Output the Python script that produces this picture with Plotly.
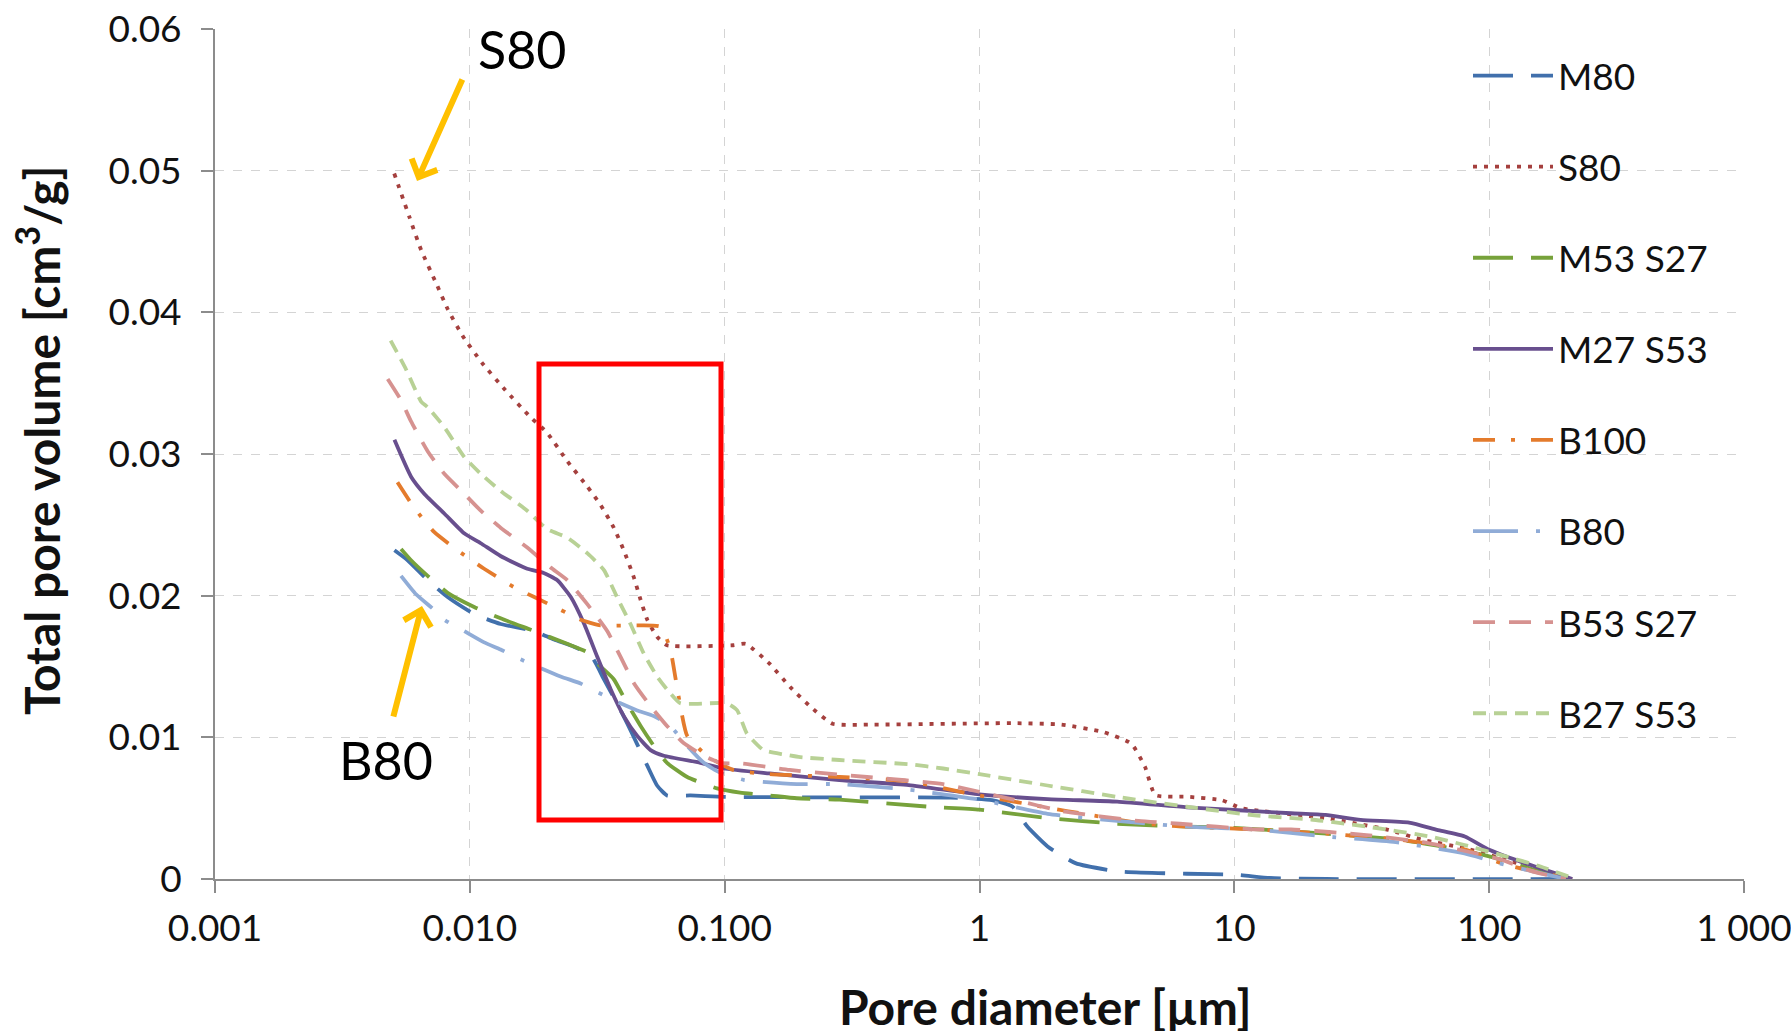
import plotly.graph_objects as go

# ---------------- data ----------------
m80_x = [0.00506, 0.0057, 0.00683, 0.00818, 0.0104, 0.0132, 0.0179, 0.0214, 0.0256, 0.0298, 0.0336,
         0.0378, 0.0414, 0.0454, 0.0497, 0.0543, 0.0594, 0.0734, 0.1, 0.282, 0.77, 1.12, 1.35, 1.54,
         1.85, 2.38, 3.47, 6.5, 10.1, 13.8, 23, 212]
m80_y = [0.0232, 0.0225, 0.0211, 0.0199, 0.0187, 0.0180, 0.0175, 0.0169, 0.0164, 0.0158, 0.0141,
         0.0124, 0.0110, 0.0095, 0.0080, 0.0066, 0.0059, 0.0059, 0.0058, 0.00576, 0.00574, 0.00557,
         0.0051, 0.0037, 0.0023, 0.00112, 0.00054, 0.00037, 0.0003, 0.00007, 0.0, 0.0]

s80_x = [0.00505, 0.0058, 0.00644, 0.0074, 0.0082, 0.0094, 0.0112, 0.0138, 0.0173, 0.0201, 0.0241,
         0.0289, 0.0326, 0.0367, 0.0402, 0.0440, 0.0468, 0.0497, 0.0543, 0.0594, 0.108, 0.121, 0.150,
         0.181, 0.219, 0.265, 0.386, 1.36, 2.10, 3.06, 3.94, 4.46, 4.90, 6.5, 8.9, 10.7, 22.9, 40.2,
         55, 80, 110, 206]
s80_y = [0.0498, 0.0467, 0.0444, 0.0420, 0.0402, 0.0383, 0.0364, 0.0345, 0.0326, 0.0315, 0.0295,
         0.0277, 0.0264, 0.0248, 0.0232, 0.0213, 0.0197, 0.0183, 0.0171, 0.0165, 0.0165, 0.0166,
         0.0152, 0.01354, 0.0121, 0.01096, 0.0109, 0.0110, 0.0109, 0.01037, 0.00956, 0.00792,
         0.00593, 0.00581, 0.00557, 0.00499, 0.0043, 0.00347, 0.00276, 0.00218, 0.00148, 0.0]

m53s27_x = [0.00537, 0.00588, 0.00683, 0.00818, 0.0104, 0.0132, 0.0179, 0.0241, 0.0289, 0.0326,
            0.0367, 0.0414, 0.0468, 0.0527, 0.0594, 0.0713, 0.0933, 0.115, 0.15, 0.192, 0.282,
            0.637, 1.0, 1.85, 3.47, 6.5, 10, 23, 43, 70, 100, 150, 212]
m53s27_y = [0.0233, 0.0225, 0.0214, 0.0202, 0.0192, 0.0184, 0.0175, 0.0166, 0.0160, 0.0150,
            0.0141, 0.0124, 0.0108, 0.0094, 0.0082, 0.0072, 0.0064, 0.0061, 0.0059, 0.0057, 0.0056,
            0.0051, 0.0049, 0.0043, 0.0039, 0.0037, 0.0036, 0.0032, 0.0028, 0.0022, 0.0016,
            0.00066, 0.0]

m27s53_x = [0.00506, 0.00588, 0.00662, 0.00794, 0.0095, 0.01104, 0.0132, 0.0168, 0.0195, 0.0220,
            0.0249, 0.0281, 0.0316, 0.0357, 0.0402, 0.0454, 0.0512, 0.0577, 0.0803, 0.099, 0.150,
            0.282, 0.528, 1.0, 1.85, 3.47, 6.51, 10, 16.7, 22.8, 31.3, 48.5, 62.4, 80.2, 100, 132, 212]
m27s53_y = [0.0310, 0.0284, 0.0272, 0.0258, 0.0244, 0.0237, 0.0228, 0.0219, 0.0216, 0.0211,
            0.0199, 0.0180, 0.0157, 0.0134, 0.0115, 0.0101, 0.0091, 0.0087, 0.0082, 0.0078, 0.00745,
            0.00698, 0.00663, 0.00597, 0.00564, 0.00546, 0.00506, 0.00487, 0.00464, 0.00452,
            0.00417, 0.00398, 0.00347, 0.0030, 0.00206, 0.00124, 0.0]

b100_x = [0.0052, 0.00605, 0.00724, 0.00895, 0.01138, 0.0149, 0.0179, 0.0227, 0.0272, 0.0326,
          0.0441, 0.0561, 0.0612, 0.0641, 0.0670, 0.0713, 0.0853, 0.108, 0.15, 0.282, 0.528, 0.818,
          1.0, 2.2, 4.46, 6.5, 12, 23, 43, 80, 116, 212]
b100_y = [0.0280, 0.0262, 0.0245, 0.0232, 0.0219, 0.0206, 0.0199, 0.0190, 0.0183, 0.0179,
          0.0179, 0.0178, 0.0162, 0.0142, 0.0122, 0.0101, 0.0087, 0.0077, 0.0074, 0.0072, 0.0069,
          0.0062, 0.0059, 0.0048, 0.0039, 0.0037, 0.0035, 0.0032, 0.0028, 0.0021, 0.0010, 0.0]

b80_x = [0.00537, 0.00615, 0.00724, 0.00794, 0.0095, 0.01138, 0.0132, 0.0154, 0.0227, 0.0272,
         0.0316, 0.0390, 0.0454, 0.0527, 0.0612, 0.0713, 0.0828, 0.0962, 0.1186, 0.192, 0.282,
         0.528, 1.0, 1.85, 3.47, 6.5, 12, 23, 43, 80, 110, 200]
b80_y = [0.0214, 0.0201, 0.0190, 0.0183, 0.0175, 0.0167, 0.0162, 0.0156, 0.0143, 0.0138,
         0.0132, 0.0124, 0.0119, 0.0115, 0.0108, 0.0094, 0.0082, 0.0075, 0.0070, 0.0067, 0.0067,
         0.0063, 0.0056, 0.0046, 0.0041, 0.0037, 0.0035, 0.0030, 0.0026, 0.0018, 0.0011, 0.0]

b53s27_x = [0.00476, 0.00537, 0.00588, 0.00683, 0.00794, 0.0095, 0.01104, 0.0132, 0.0168, 0.0207,
            0.0241, 0.0289, 0.0346, 0.0390, 0.0441, 0.0512, 0.0594, 0.0690, 0.0828, 0.0962, 0.117,
            0.18, 0.362, 0.72, 1.36, 2.1, 4.2, 6.1, 12, 16.7, 33, 55, 75, 110, 150, 200]
b53s27_y = [0.0353, 0.0338, 0.0323, 0.0302, 0.0286, 0.0272, 0.0260, 0.0248, 0.0234, 0.0220,
            0.0211, 0.0194, 0.0175, 0.0157, 0.0138, 0.0122, 0.0108, 0.0096, 0.0087, 0.0082, 0.00815,
            0.0077, 0.0072, 0.0067, 0.0056, 0.0048, 0.0041, 0.0039, 0.0035, 0.0035, 0.0031, 0.0026,
            0.0021, 0.0014, 0.0005, 0.0]

b27s53_x = [0.00489, 0.00561, 0.00644, 0.00683, 0.00794, 0.0095, 0.01104, 0.0132, 0.0168, 0.0201,
            0.0241, 0.0289, 0.0336, 0.0378, 0.0427, 0.0482, 0.0543, 0.0612, 0.0670, 0.102, 0.112,
            0.122, 0.142, 0.170, 0.198, 0.282, 0.528, 0.72, 1.0, 1.85, 3.47, 6.5, 12, 20, 33, 58.5,
            80, 116, 158, 218]
b27s53_y = [0.0380, 0.0360, 0.0337, 0.0333, 0.0319, 0.0298, 0.0286, 0.0274, 0.0260, 0.0247,
            0.0241, 0.0230, 0.0218, 0.0199, 0.0180, 0.0159, 0.0143, 0.0131, 0.0124, 0.0124, 0.0119,
            0.0103, 0.0091, 0.0088, 0.0086, 0.0084, 0.0081, 0.0078, 0.0074, 0.0066, 0.0058, 0.0051,
            0.0045, 0.0042, 0.0037, 0.0030, 0.0024, 0.0016, 0.0009, 0.0]

x_tickvals = [0.001, 0.01, 0.1, 1, 10, 100, 1000]
x_ticktext = ["0.001", "0.010", "0.100", "1", "10", "100", "1 000"]
y_tickvals = [0, 0.01, 0.02, 0.03, 0.04, 0.05, 0.06]
y_ticktext = ["0", "0.01", "0.02", "0.03", "0.04", "0.05", "0.06"]

series = [
    ("M80", m80_x, m80_y, "#4170AC", "40px,18px"),
    ("S80", s80_x, s80_y, "#A5403E", "4px,7px"),
    ("M53 S27", m53s27_x, m53s27_y, "#77A23B", "40px,18px"),
    ("M27 S53", m27s53_x, m27s53_y, "#684F8E", "solid"),
    ("B100", b100_x, b100_y, "#E47B2C", "22px,16px,4px,16px"),
    ("B80", b80_x, b80_y, "#90ACD7", "45px,18px,4px,18px"),
    ("B53 S27", b53s27_x, b53s27_y, "#D69290", "22px,14px"),
    ("B27 S53", b27s53_x, b27s53_y, "#B8D195", "13px,8px"),
]

FONT = "Lato"
fig = go.Figure()
for i, (name, xs, ys, color, dash) in enumerate(series):
    fig.add_trace(go.Scatter(
        x=xs, y=ys, mode="lines", name=name, legendgroup=f"g{i}",
        line=dict(color=color, width=3.8, dash=dash, shape="spline", smoothing=0.5),
    ))

grid = dict(showgrid=True, gridcolor="#D4D4D4", gridwidth=1, griddash="dash")
fig.update_xaxes(
    type="log", range=[-3, 3], tickvals=x_tickvals, ticktext=x_ticktext, automargin=False,
    showline=True, linecolor="#8C8C8C", linewidth=2, ticks="outside", ticklen=12,
    tickcolor="#8C8C8C", tickwidth=2, ticklabelstandoff=4, ticklabeloverflow="allow",
    tickfont=dict(family=FONT, size=37, color="#111"), zeroline=False, mirror=False, **grid,
)
fig.update_yaxes(
    range=[0, 0.06], tickvals=y_tickvals, ticktext=y_ticktext, automargin=False,
    showline=True, linecolor="#8C8C8C", linewidth=2, ticks="outside", ticklen=12,
    tickcolor="#8C8C8C", tickwidth=2, ticklabelstandoff=12, ticklabeloverflow="allow",
    tickfont=dict(family=FONT, size=37, color="#111"), zeroline=False, **grid,
)

L, R, T, B = 215, 47, 29, 152
W, H = 1791, 1031
pw, ph = W - L - R, H - T - B

def px(xf):
    return (xf - L) / pw

def py(yf):
    return (H - B - yf) / ph

fig.update_layout(
    width=W, height=H, margin=dict(l=L, r=R, t=T, b=B, pad=0, autoexpand=False),
    paper_bgcolor="white", plot_bgcolor="white",
    font=dict(family=FONT, color="#111"),
    legend=dict(
        x=px(1468), y=py(45), xanchor="left", yanchor="top",
        bgcolor="rgba(0,0,0,0)", font=dict(family=FONT, size=37, color="#111"),
        tracegroupgap=40, traceorder="grouped", itemwidth=80,
    ),
    showlegend=True,
)

# red highlight box
fig.add_shape(type="rect", xref="paper", yref="paper",
              x0=px(539), x1=px(721), y0=py(820), y1=py(364),
              line=dict(color="#FF0000", width=5), fillcolor="rgba(0,0,0,0)")

# axis titles
fig.add_annotation(xref="paper", yref="paper", x=px(1045), y=py(1006), showarrow=False,
                   text="<b>Pore diameter [µm]</b>", font=dict(family=FONT, size=48, color="#111"),
                   xanchor="center", yanchor="middle")
fig.add_annotation(xref="paper", yref="paper", x=px(38), y=py(440), showarrow=False,
                   text="<b>Total pore volume [cm<sup>3</sup>/g]</b>", textangle=-90,
                   font=dict(family=FONT, size=48, color="#111"), xanchor="center", yanchor="middle")

# callouts
fig.add_annotation(xref="paper", yref="paper", x=px(522), y=py(49), showarrow=False,
                   xanchor="center", yanchor="middle",
                   text="S80", font=dict(family=FONT, size=52, color="black"))
fig.add_annotation(xref="paper", yref="paper", x=px(417), y=py(181), text="",
                   showarrow=True, arrowhead=4, arrowsize=0.9, arrowwidth=6, arrowcolor="#FFC000",
                   ax=46, ay=-103, axref="pixel", ayref="pixel")
fig.add_annotation(xref="paper", yref="paper", x=px(386), y=py(760), showarrow=False,
                   xanchor="center", yanchor="middle",
                   text="B80", font=dict(family=FONT, size=52, color="black"))
fig.add_annotation(xref="paper", yref="paper", x=px(422), y=py(606), text="",
                   showarrow=True, arrowhead=4, arrowsize=0.9, arrowwidth=6, arrowcolor="#FFC000",
                   ax=-29, ay=112, axref="pixel", ayref="pixel")

fig.write_html("out.html")
